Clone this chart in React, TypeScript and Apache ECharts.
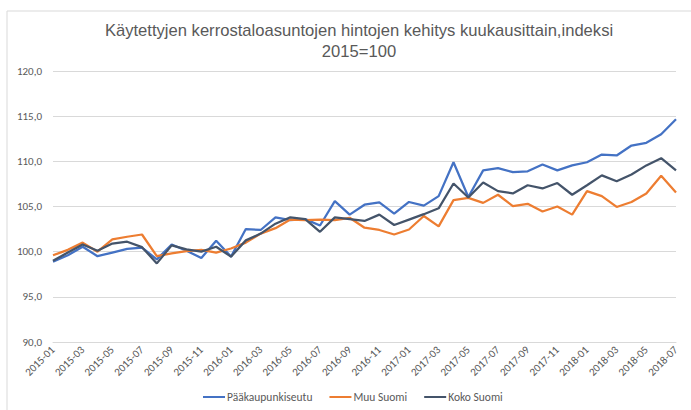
import React, { useEffect, useRef } from "react";
import * as echarts from "echarts";

const months: string[] = [];
for (let y = 2015; y <= 2018; y++) {
  for (let m = 1; m <= 12; m++) {
    if (y === 2018 && m > 7) break;
    months.push(`${y}-${m < 10 ? "0" + m : m}`);
  }
}

const seriesNames = ["Pääkaupunkiseutu", "Muu Suomi", "Koko Suomi"];

const paakaupunkiseutu = [
  98.9, 99.6, 100.55, 99.5, 99.9, 100.3, 100.45, 99.15, 100.8, 100.1, 99.3, 101.2,
  99.45, 102.5, 102.4, 103.8, 103.5, 103.6, 102.9, 105.6, 104.1, 105.2, 105.45, 104.2,
  105.5, 105.1, 106.15, 109.9, 106.05, 109.0, 109.25, 108.8, 108.9, 109.65, 109.0, 109.55,
  109.9, 110.75, 110.65, 111.75, 112.05, 113.0, 114.65,
];

const muuSuomi = [
  99.6, 100.2, 101.0, 100.0, 101.35, 101.65, 101.9, 99.5, 99.8, 100.05, 100.2, 99.9,
  100.35, 101.0, 102.0, 102.6, 103.55, 103.5, 103.55, 103.5, 103.75, 102.65, 102.4, 101.9,
  102.45, 103.95, 102.8, 105.7, 105.95, 105.4, 106.3, 105.05, 105.3, 104.45, 105.0, 104.1,
  106.7, 106.15, 104.95, 105.5, 106.45, 108.4, 106.55,
];

const kokoSuomi = [
  99.0, 99.9, 100.8, 100.1, 100.9, 101.1, 100.5, 98.7, 100.7, 100.25, 100.0, 100.55,
  99.45, 101.25, 102.0, 103.1, 103.8, 103.6, 102.2, 103.8, 103.6, 103.4, 104.1, 102.95,
  103.55, 104.15, 104.8, 107.55, 106.0, 107.65, 106.7, 106.45, 107.35, 107.0, 107.6, 106.3,
  107.35, 108.45, 107.8, 108.55, 109.55, 110.35, 109.0,
];

const colors = ["#4472C4", "#ED7D31", "#44546A"];

export default function App() {
  const ref = useRef<HTMLDivElement>(null);
  useEffect(() => {
    if (!ref.current) return;
    const chart = echarts.init(ref.current, null, { renderer: "svg" });
    const data = [paakaupunkiseutu, muuSuomi, kokoSuomi];
    chart.setOption({
      animation: false,
      backgroundColor: "#ffffff",
      textStyle: { fontFamily: "Carlito, 'Liberation Sans', sans-serif" },
      graphic: [
        {
          type: "rect",
          shape: { x: 7, y: 11, width: 720, height: 430 },
          style: { fill: "none", stroke: "#d9d9d9", lineWidth: 1 },
          silent: true,
        },
      ],
      title: {
        text: "Käytettyjen kerrostaloasuntojen hintojen kehitys kuukausittain,indeksi\n2015=100",
        left: 354,
        textAlign: "center",
        top: 15,
        textStyle: {
          fontSize: 16.6,
          fontWeight: "normal",
          color: "#595959",
          lineHeight: 21,
          fontFamily: "'Liberation Sans Narrow', 'Liberation Sans', sans-serif",
        },
      },
      legend: {
        bottom: 2,
        left: 198,
        itemGap: 17,
        itemWidth: 22,
        itemHeight: 2,
        icon: "rect",
        textStyle: { color: "#595959", fontSize: 11.5, padding: [0, 0, 0, -3] },
        data: seriesNames,
      },
      grid: { left: 53, right: 15, top: 71, bottom: 68, containLabel: false },
      xAxis: {
        type: "category",
        data: months,
        boundaryGap: false,
        axisLine: { lineStyle: { color: "#d9d9d9" } },
        axisTick: { show: false },
        axisLabel: {
          interval: 1,
          rotate: 45,
          fontSize: 11,
          color: "#595959",
          margin: 6,
        },
      },
      yAxis: {
        type: "value",
        min: 90,
        max: 120,
        interval: 5,
        axisLine: { show: false },
        axisTick: { show: false },
        splitLine: { lineStyle: { color: "#d9d9d9" } },
        axisLabel: {
          color: "#595959",
          fontSize: 11,
          margin: 11,
          formatter: (v: number) => v.toFixed(1).replace(".", ","),
        },
      },
      series: seriesNames.map((name, i) => ({
        name,
        type: "line",
        data: data[i],
        showSymbol: false,
        symbol: "none",
        lineStyle: { width: 2.25, color: colors[i] },
        itemStyle: { color: colors[i] },
      })),
    });
    return () => chart.dispose();
  }, []);
  return (
    <div
      ref={ref}
      style={{ position: "fixed", left: 0, top: 0, width: 691, height: 410 }}
    />
  );
}
